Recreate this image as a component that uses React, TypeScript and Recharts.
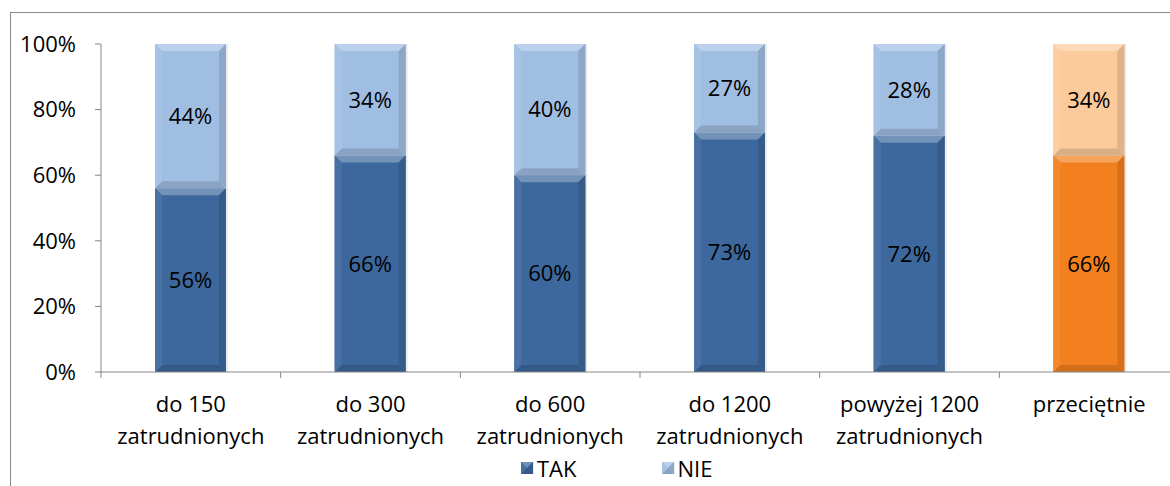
import React from 'react';
import { BarChart, Bar, XAxis, YAxis, Cell, LabelList } from 'recharts';

const categories = ['do 150|zatrudnionych', 'do 300|zatrudnionych', 'do 600|zatrudnionych', 'do 1200|zatrudnionych', 'powyżej 1200|zatrudnionych', 'przeciętnie'];
const takValues = [56, 66, 60, 73, 72, 66];
const nieValues = [44, 34, 40, 27, 28, 34];
const yTicks = [0, 20, 40, 60, 80, 100];
const seriesNames = ['TAK', 'NIE'];

const TAK_COLOR = '#3D689D';
const NIE_COLOR = '#A0BEE2';
const AVG_TAK = '#F2801E';
const AVG_NIE = '#FCCB9B';
const FONT = '"Open Sans", "DejaVu Sans", sans-serif';
const FS = 22;

const data = categories.map((c, i) => ({ name: c, TAK: takValues[i], NIE: nieValues[i] }));

function mix(hex: string, target: number, t: number) {
  const n = parseInt(hex.slice(1), 16);
  const r = (n >> 16) & 255, g = (n >> 8) & 255, b = n & 255;
  const f = (v: number) => Math.round(v + (target - v) * t);
  return `rgb(${f(r)},${f(g)},${f(b)})`;
}

const Bevel = (props: any) => {
  const { x, y, width: w, height: h, fill } = props;
  if (!h || h <= 0) return null;
  const b = Math.min(7, h / 2, w / 2);
  return (
    <g>
      <rect x={x + 2} y={y} width={w} height={h} fill="rgba(0,0,0,0.08)" />
      <rect x={x} y={y} width={w} height={h} fill={fill} />
      <polygon points={`${x},${y} ${x + w},${y} ${x + w - b},${y + b} ${x + b},${y + b}`} fill={mix(fill, 255, 0.28)} />
      <polygon points={`${x},${y + h} ${x + w},${y + h} ${x + w - b},${y + h - b} ${x + b},${y + h - b}`} fill={mix(fill, 0, 0.14)} />
      <polygon points={`${x},${y} ${x + b},${y + b} ${x + b},${y + h - b} ${x},${y + h}`} fill={mix(fill, 255, 0.06)} />
      <polygon points={`${x + w},${y} ${x + w - b},${y + b} ${x + w - b},${y + h - b} ${x + w},${y + h}`} fill={mix(fill, 0, 0.12)} />
    </g>
  );
};

const CatTick = (props: any) => {
  const { x, payload } = props;
  const half = payload && payload.offset ? payload.offset : 0;
  const lines = String(payload.value).split('|');
  return (
    <g>
      {half ? <line x1={x - half} x2={x - half} y1={372} y2={378} stroke="#868686" strokeWidth={1} /> : null}
      <text x={x} y={412} textAnchor="middle" fontSize={FS} fontFamily={FONT} fill="#000">
        {lines.map((l, i) => (
          <tspan key={i} x={x} dy={i === 0 ? 0 : 32}>{l}</tspan>
        ))}
      </text>
    </g>
  );
};

const pct = (v: any) => `${v}%`;

export default function App() {
  return (
    <div style={{ position: 'absolute', left: 0, top: 0, width: 1170, height: 486, overflow: 'hidden', background: '#fff' }}>
      <div style={{ position: 'absolute', left: 10, top: 12, width: 1300, height: 600, border: '1px solid #8a8a8a' }} />
      <div style={{ position: 'absolute', left: 0, top: 0 }}>
        <BarChart width={1200} height={486} data={data} margin={{ top: 44, right: 21, left: 0, bottom: 0 }} barSize={71}>
          <XAxis dataKey="name" height={114} interval={0} tickLine={false} stroke="#868686" tick={<CatTick />} />
          <YAxis width={101} domain={[0, 100]} ticks={yTicks} tickFormatter={pct} tickSize={6} tickMargin={19}
            stroke="#868686" tick={{ fontSize: FS, fontFamily: FONT, fill: '#000' }} />
          <Bar dataKey="TAK" stackId="a" fill={TAK_COLOR} shape={<Bevel />} isAnimationActive={false}>
            {data.map((d, i) => <Cell key={i} fill={i === data.length - 1 ? AVG_TAK : TAK_COLOR} />)}
            <LabelList dataKey="TAK" position="center" formatter={pct} fill="#000" fontSize={FS} fontFamily={FONT} />
          </Bar>
          <Bar dataKey="NIE" stackId="a" fill={NIE_COLOR} shape={<Bevel />} isAnimationActive={false}>
            {data.map((d, i) => <Cell key={i} fill={i === data.length - 1 ? AVG_NIE : NIE_COLOR} />)}
            <LabelList dataKey="NIE" position="center" formatter={pct} fill="#000" fontSize={FS} fontFamily={FONT} />
          </Bar>
        </BarChart>
      </div>
      <div style={{ position: 'absolute', left: 521, top: 453, display: 'flex', alignItems: 'center', fontFamily: FONT, fontSize: FS, color: '#000' }}>
        {seriesNames.map((s, i) => (
          <div key={s} style={{ display: 'flex', alignItems: 'center', marginRight: i === 0 ? 85 : 0 }}>
            <svg width={13} height={13} style={{ marginRight: 3 }}>
              <Bevel x={0} y={0} width={12} height={12} fill={i === 0 ? TAK_COLOR : NIE_COLOR} />
            </svg>
            <span>{s}</span>
          </div>
        ))}
      </div>
    </div>
  );
}
